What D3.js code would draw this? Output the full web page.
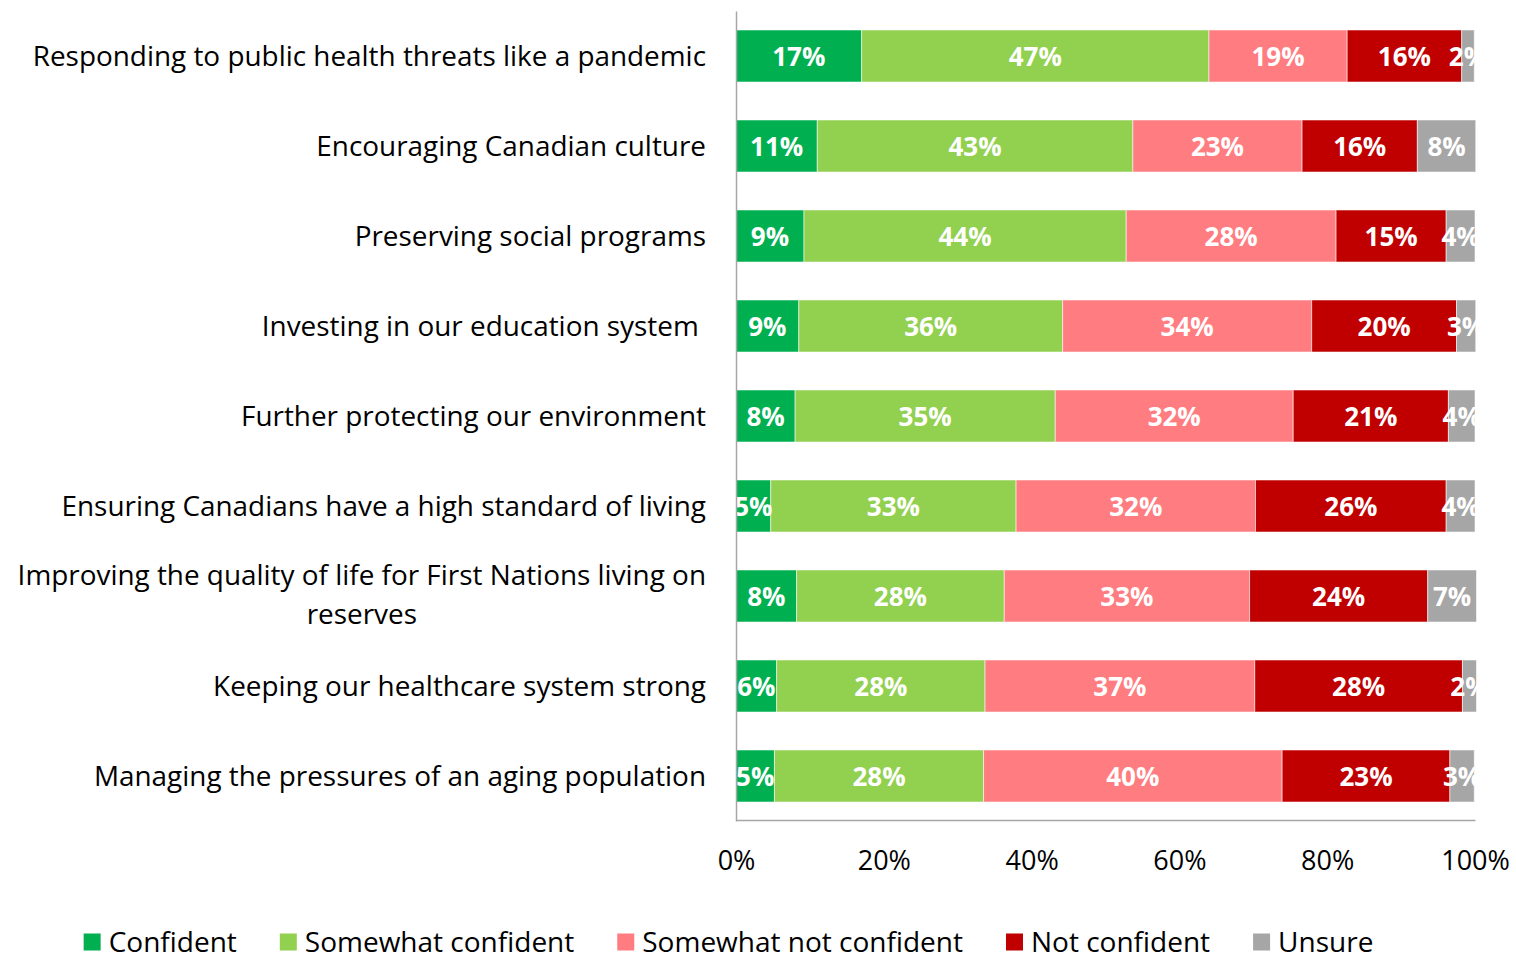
<!DOCTYPE html>
<html>
<head>
<meta charset="utf-8">
<script src="https://cdn.jsdelivr.net/npm/d3@7"></script>
<style>
  html, body { margin: 0; padding: 0; background: #fff; }
  svg { display: block; font-family: "Open Sans", "Noto Sans", sans-serif; }
</style>
</head>
<body>
<svg id="chart" width="1516" height="955"></svg>
<script>
// ---- data ----
const categories = [
  "Responding to public health threats like a pandemic",
  "Encouraging Canadian culture",
  "Preserving social programs",
  "Investing in our education system ",
  "Further protecting our environment",
  "Ensuring Canadians have a high standard of living",
  "Improving the quality of life for First Nations living on reserves",
  "Keeping our healthcare system strong",
  "Managing the pressures of an aging population"
];
const seriesNames = ["Confident", "Somewhat confident", "Somewhat not confident", "Not confident", "Unsure"];
const confident          = [17.0, 11.0,  9.2,  8.5,  8.0,  4.7,  8.2,  5.5,  5.2];
const somewhatConfident  = [47.0, 42.7, 43.6, 35.7, 35.2, 33.2, 28.1, 28.2, 28.3];
const somewhatNot        = [18.7, 22.9, 28.4, 33.7, 32.2, 32.4, 33.2, 36.5, 40.4];
const notConfident       = [15.5, 15.6, 14.9, 19.6, 21.0, 25.8, 24.1, 28.1, 22.7];
const unsure             = [ 1.7,  7.9,  3.9,  2.6,  3.6,  3.9,  6.6,  1.9,  3.3];
const tickValues = [0, 20, 40, 60, 80, 100];
const tickLabels = ["0%", "20%", "40%", "60%", "80%", "100%"];
const colors = ["#00B050", "#92D050", "#FF7C80", "#C00000", "#A6A6A6"];

const seriesValues = [confident, somewhatConfident, somewhatNot, notConfident, unsure];
const rows = categories.map((c, i) => {
  const r = { category: c };
  seriesNames.forEach((s, k) => r[s] = seriesValues[k][i]);
  return r;
});

// ---- layout ----
const svg = d3.select("#chart");
const plotLeft = 736, plotRight = 1475, plotTop = 11, plotBottom = 821;

const x = d3.scaleLinear().domain([0, 100]).range([plotLeft, plotRight]);
const y = d3.scaleBand().domain(categories).range([plotTop, plotBottom])
  .paddingInner(0.422).paddingOuter(0.211);

const stack = d3.stack().keys(seriesNames);
const stacked = stack(rows);

svg.append("defs").append("clipPath").attr("id", "plotClip")
  .append("rect").attr("x", plotLeft).attr("y", 0)
  .attr("width", plotRight - plotLeft + 2).attr("height", plotBottom);

// bars
const layers = svg.append("g").selectAll("g").data(stacked).join("g")
  .attr("fill", (d, i) => colors[i]);
layers.selectAll("rect").data(d => d).join("rect")
  .attr("x", d => x(d[0]))
  .attr("y", d => y(d.data.category))
  .attr("width", d => x(d[1]) - x(d[0]))
  .attr("height", y.bandwidth())
  .attr("stroke", "#ffffff").attr("stroke-opacity", 0.55).attr("stroke-width", 1);

// bar labels
const labelG = svg.append("g").attr("clip-path", "url(#plotClip)");
stacked.forEach((layer) => {
  labelG.append("g").selectAll("text").data(layer).join("text")
    .attr("x", d => (x(d[0]) + x(d[1])) / 2)
    .attr("y", d => y(d.data.category) + y.bandwidth() / 2 + 1)
    .attr("dy", "0.36em")
    .attr("text-anchor", "middle")
    .attr("fill", "#ffffff")
    .attr("font-weight", "bold")
    .attr("font-size", 26)
    .text(d => Math.round(d[1] - d[0]) + "%");
});

// axes
const xAxis = d3.axisBottom(x).tickValues(tickValues).tickFormat((d, i) => tickLabels[i]).tickSize(0).tickPadding(0);
const gx = svg.append("g").attr("transform", `translate(0,${plotBottom - 1})`).call(xAxis);
gx.select(".domain").attr("stroke", "#A6A6A6").attr("stroke-width", 1.5);
gx.selectAll("text").attr("font-size", 27).attr("fill", "#000")
  .attr("font-family", "Open Sans").attr("y", 40).attr("dy", "0.36em");

const yAxis = d3.axisLeft(y).tickSize(0).tickPadding(0).tickFormat("");
const gy = svg.append("g").attr("transform", `translate(${plotLeft},0)`).call(yAxis);
gy.select(".domain").attr("stroke", "#A6A6A6").attr("stroke-width", 1.5);

// category labels (wrapped, right-aligned; wrapped lines centred like Excel)
const labelRight = 706, maxLabelWidth = 700, lineH = 39;
const catG = svg.append("g").attr("font-size", 27.9).attr("fill", "#000");
categories.forEach(c => {
  const cy = y(c) + y.bandwidth() / 2;
  // measure & wrap
  const probe = catG.append("text").style("white-space", "pre").text(c);
  let lines = [c];
  if (probe.node().getComputedTextLength() > maxLabelWidth) {
    const words = c.split(" ");
    lines = [];
    let cur = "";
    words.forEach(w => {
      const t = cur ? cur + " " + w : w;
      probe.text(t);
      if (probe.node().getComputedTextLength() > maxLabelWidth && cur) {
        lines.push(cur); cur = w;
      } else cur = t;
    });
    if (cur) lines.push(cur);
  }
  probe.remove();
  if (lines.length === 1) {
    catG.append("text").style("white-space", "pre")
      .attr("x", labelRight).attr("y", cy).attr("dy", "0.36em")
      .attr("text-anchor", "end").text(lines[0]);
  } else {
    // block right-aligned at labelRight, lines centred within block
    const tmp = lines.map(l => { const t = catG.append("text").text(l); const w = t.node().getComputedTextLength(); t.remove(); return w; });
    const blockW = d3.max(tmp);
    const cx = labelRight - blockW / 2;
    lines.forEach((l, i) => {
      catG.append("text")
        .attr("x", cx).attr("y", cy - 2 + (i - (lines.length - 1) / 2) * lineH)
        .attr("dy", "0.36em").attr("text-anchor", "middle").text(l);
    });
  }
});

// legend
const legend = svg.append("g").attr("font-size", 28);
const items = seriesNames.map((s, i) => {
  const g = legend.append("g");
  g.append("rect").attr("width", 17).attr("height", 17).attr("y", -8.5).attr("fill", colors[i]);
  const t = g.append("text").attr("x", 25).attr("dy", "0.36em").attr("fill", "#000").text(s);
  return { g, w: 25 + t.node().getComputedTextLength() };
});
const gap = 43;
const totalW = d3.sum(items, d => d.w) + gap * (items.length - 1);
let lx = 728.5 - totalW / 2;
items.forEach(it => { it.g.attr("transform", `translate(${lx},942)`); lx += it.w + gap; });
</script>
</body>
</html>
